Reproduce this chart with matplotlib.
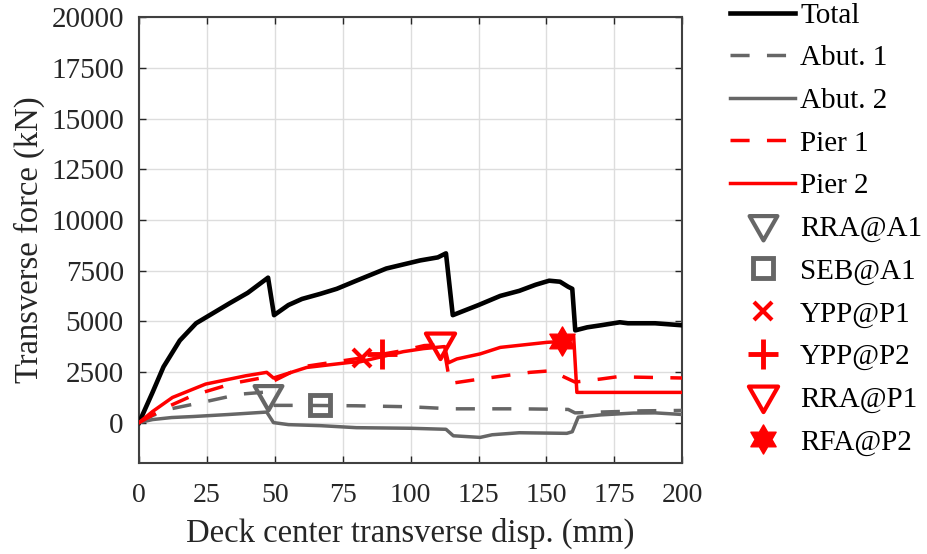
import numpy as np
import matplotlib
matplotlib.use("Agg")
import matplotlib.pyplot as plt
from matplotlib.path import Path

plt.rcParams["font.family"] = ["Liberation Serif", "DejaVu Serif"]

# Force-displacement curves (mm, kN)
total_x = [0, 5, 9, 15, 21, 26, 33.5, 40, 47.5, 49.7, 55, 60, 66.7, 72.8, 80, 91,
           103.5, 110, 113, 115.5, 125, 133, 140, 146, 151, 155, 158, 159.5,
           160.6, 165, 170, 177, 180, 190, 200]
total_y = [0, 1500, 2750, 4050, 4900, 5300, 5900, 6400, 7150, 5300, 5800, 6100,
           6350, 6600, 7000, 7600, 8000, 8150, 8350, 5300, 5800, 6250, 6500, 6800,
           7000, 6950, 6700, 6600, 4550, 4700, 4800, 4950, 4900, 4900, 4800]

abut1_x = [0, 5, 11, 23, 37, 46, 49.5, 60, 80, 100, 115, 140, 158, 160.5, 170, 185, 200]
abut1_y = [0, 350, 660, 990, 1400, 1500, 850, 850, 830, 780, 680, 680, 650, 480, 520, 580, 600]

abut2_x = [0, 5, 12, 20, 33, 47, 49.5, 55, 66.7, 80, 100, 113, 115.7, 125.6, 130,
           140, 157.5, 159.5, 161.7, 170, 182, 190, 200]
abut2_y = [0, 150, 250, 300, 400, 520, 0, -100, -150, -250, -280, -330, -650, -730,
           -600, -500, -530, -450, 270, 380, 470, 480, 400]

pier1_x = [0, 10, 20, 35, 45, 47.5, 49.5, 60, 80, 97, 105, 112, 114.5, 125.6, 144,
           152, 155.7, 160.5, 170, 176, 200]
pier1_y = [0, 750, 1350, 1950, 2200, 2250, 2050, 2750, 3150, 3550, 3800, 3850, 1930,
           2150, 2480, 2560, 2300, 2000, 2150, 2260, 2200]

pier2_x = [0, 5, 12.3, 24.5, 39.3, 47, 49.5, 61.7, 77.7, 81.4, 97.3, 104.7, 112.5,
           113.9, 117, 125.6, 133, 150.2, 155.7, 160, 161.2, 170, 200]
pier2_y = [0, 550, 1240, 1900, 2310, 2480, 2200, 2720, 2970, 3000, 3500, 3650, 3750,
           2950, 3140, 3390, 3710, 3960, 4000, 4280, 1490, 1490, 1490]

# Damage-state events
rra_a1 = (47.6, 1320)
seb_a1 = (66.7, 880)
ypp_p1 = (82.0, 3200)
ypp_p2 = (89.4, 3390)
rra_p1 = (110.9, 3880)
rfa_p2 = (155.7, 4020)

xticks = [0, 25, 50, 75, 100, 125, 150, 175, 200]
yticks = [0, 2500, 5000, 7500, 10000, 12500, 15000, 17500, 20000]

gray = "#666666"
red = "#ff0000"
dash = (0, (5.5, 5))

tri_down = Path([(-1, 0.75), (1, 0.75), (0, -1), (-1, 0.75)],
                [Path.MOVETO, Path.LINETO, Path.LINETO, Path.CLOSEPOLY])
hexagram = Path.unit_regular_star(6, 0.577)

fig = plt.figure(figsize=(9.27, 5.54), dpi=100)
ax = fig.add_axes([0.150, 0.164, 0.586, 0.805])

ax.plot(total_x, total_y, color="black", lw=3.3, label="Total", zorder=3)
ax.plot(abut1_x, abut1_y, color=gray, lw=2.5, ls=dash, label="Abut. 1", zorder=3)
ax.plot(abut2_x, abut2_y, color=gray, lw=2.5, label="Abut. 2", zorder=3)
ax.plot(pier1_x, pier1_y, color=red, lw=2.5, ls=dash, label="Pier 1", zorder=3)
ax.plot(pier2_x, pier2_y, color=red, lw=2.5, label="Pier 2", zorder=3)

ax.plot(*rra_a1, ls="none", marker=tri_down, ms=20, mfc="none", mec=gray, mew=3,
        label="RRA@A1", zorder=4)
ax.plot(*seb_a1, ls="none", marker="s", ms=14, mfc="none", mec=gray, mew=3.5,
        label="SEB@A1", zorder=4)
ax.plot(*ypp_p1, ls="none", marker="x", ms=13, mec=red, mew=3,
        label="YPP@P1", zorder=4)
ax.plot(*ypp_p2, ls="none", marker="+", ms=21, mec=red, mew=3.5,
        label="YPP@P2", zorder=4)
ax.plot(*rra_p1, ls="none", marker=tri_down, ms=21, mfc="none", mec=red, mew=3,
        label="RRA@P1", zorder=4)
ax.plot(*rfa_p2, ls="none", marker=hexagram, ms=21, mfc=red, mec=red, mew=1,
        label="RFA@P2", zorder=4)

ax.set_xlim(0, 200)
ax.set_ylim(-2000, 20000)
ax.set_xticks(xticks)
ax.set_yticks(yticks)
ax.set_xticklabels([str(t) for t in xticks])
ax.set_yticklabels([str(t) for t in yticks])
ax.grid(True, color="#dddddd", lw=1.0)
ax.set_axisbelow(True)
ax.tick_params(direction="in", length=5, width=1, colors="#262626",
               top=True, right=True)
ax.tick_params(axis="y", labelsize=21, pad=11)
ax.tick_params(axis="x", labelsize=20, pad=14)
for sp in ax.spines.values():
    sp.set_color("#404040")
    sp.set_linewidth(1.5)

ax.set_xlabel("Deck center transverse disp. (mm)", fontsize=23.5, color="#262626",
              labelpad=7)
ax.set_ylabel("Transverse force (kN)", fontsize=23.5, color="#262626", labelpad=4)

leg = ax.legend(loc="upper left", bbox_to_anchor=(1.088, 1.033), frameon=False,
                fontsize=21, handlelength=2.23, handletextpad=0.17,
                labelspacing=0.555, borderaxespad=0, borderpad=0)
for t in leg.get_texts():
    t.set_color("black")

fig.savefig("out.png", dpi=100)
